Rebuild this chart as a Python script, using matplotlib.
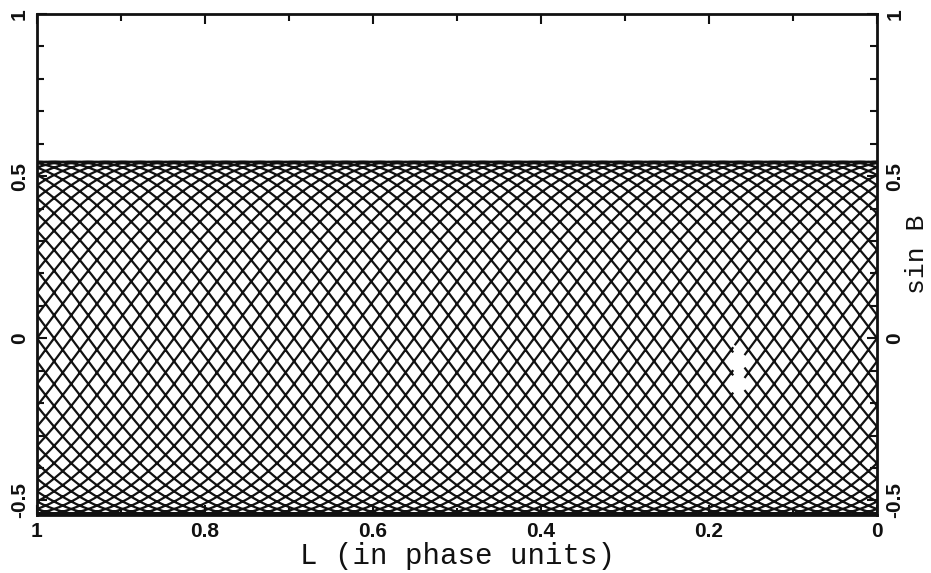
import numpy as np
import matplotlib
matplotlib.use("Agg")
import matplotlib.pyplot as plt
from matplotlib.ticker import MultipleLocator

# Orbit track parameters (longitude wraps every pass, latitude oscillates)
n_passes = 48            # number of wraps in longitude L
amplitude = 0.545        # maximum |sin B|
beat_cycles = 1          # latitude cycles per longitude wrap (plus drift)
samples_per_pass = 600

# Missing stretch of the record (L range, sin B range)
gap_L = (0.157, 0.171)
gap_sinB = (-0.185, -0.02)

x_ticks = [1, 0.8, 0.6, 0.4, 0.2, 0]
x_ticklabels = ["1", "0.8", "0.6", "0.4", "0.2", "0"]
y_ticks = [-0.5, 0, 0.5, 1]
y_ticklabels = ["-0.5", "0", "0.5", "1"]

# build the wrapped track, one segment per pass
omega = 2 * np.pi * (beat_cycles + 1.0 / n_passes)
segs_L, segs_B = [], []
for k in range(n_passes):
    t = k + np.linspace(0, 1, samples_per_pass)
    L = t - k
    B = amplitude * np.sin(omega * t)
    mask = (L > gap_L[0]) & (L < gap_L[1]) & (B > gap_sinB[0]) & (B < gap_sinB[1])
    B = B.copy()
    B[mask] = np.nan
    segs_L.append(np.append(L, np.nan))
    segs_B.append(np.append(B, np.nan))
track_L = np.concatenate(segs_L)
track_B = np.concatenate(segs_B)

fig = plt.figure(figsize=(9.31, 5.73), dpi=100)
ax = fig.add_axes([0.0397, 0.1012, 0.9023, 0.8744])
ax.plot(track_L, track_B, color="#111111", lw=1.6, solid_joinstyle="round")

ax.set_xlim(1, 0)
ax.set_ylim(-0.545, 1.0)

for s in ax.spines.values():
    s.set_linewidth(2.0)
    s.set_color("#111111")

tick_font = "Liberation Sans"
tick_size = 15
tick_weight = "bold"
ax.set_xticks(x_ticks)
ax.set_xticklabels(x_ticklabels)
ax.xaxis.set_minor_locator(MultipleLocator(0.1))
ax.set_yticks(y_ticks)
ax.set_yticklabels(y_ticklabels)
ax.yaxis.set_minor_locator(MultipleLocator(0.1))

ax.tick_params(which="both", direction="in", top=True, right=True,
               labelright=True, width=1.5, colors="#111111")
ax.tick_params(which="major", length=7)
ax.tick_params(which="minor", length=5)
ax.tick_params(axis="y", pad=6)
ax.tick_params(axis="x", pad=5)
for t in ax.xaxis.get_major_ticks():
    t.label1.set_fontsize(tick_size)
    t.label1.set_family(tick_font)
    t.label1.set_weight(tick_weight)
for t in ax.yaxis.get_major_ticks():
    for lab in (t.label1, t.label2):
        lab.set_rotation(90)
        lab.set_va("center")
        lab.set_family(tick_font)
        lab.set_fontsize(tick_size)
        lab.set_weight(tick_weight)

label_font = "Liberation Mono"
fig.text(457 / 931, 1 - 556 / 573, "L (in phase units)", family=label_font,
         fontsize=21, ha="center", va="center", color="#111111")
fig.text(917 / 931, 1 - 254 / 573, "sin B", family=label_font,
         fontsize=19, rotation=90, ha="center", va="center", color="#111111")

fig.savefig("out.png", dpi=100)
